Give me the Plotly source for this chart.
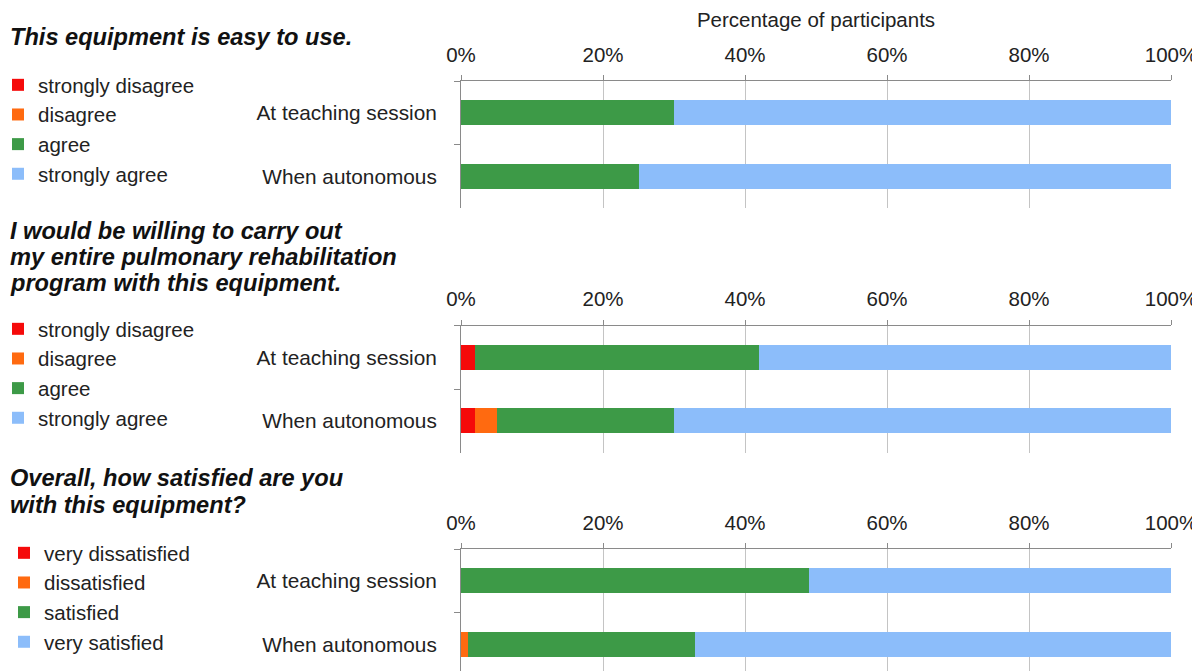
import plotly.graph_objects as go

# The page body adds an 8px margin; the figure is sized to fit inside the window.
OFF = 8
W, H = 1200 - OFF, 671 - OFF

categories = ["At teaching session", "When autonomous"]

# Panel 1: This equipment is easy to use.
p1_labels = ["strongly disagree", "disagree", "agree", "strongly agree"]
p1_strongly_disagree = [0, 0]
p1_disagree = [0, 0]
p1_agree = [30, 25]
p1_strongly_agree = [70, 75]

# Panel 2: willing to carry out entire program
p2_labels = ["strongly disagree", "disagree", "agree", "strongly agree"]
p2_strongly_disagree = [2, 2]
p2_disagree = [0, 3]
p2_agree = [40, 25]
p2_strongly_agree = [58, 70]

# Panel 3: satisfaction
p3_labels = ["very dissatisfied", "dissatisfied", "satisfied", "very satisfied"]
p3_very_dissatisfied = [0, 0]
p3_dissatisfied = [0, 1]
p3_satisfied = [49, 32]
p3_very_satisfied = [51, 67]

tick_vals = [0, 20, 40, 60, 80, 100]
tick_text = ["0%", "20%", "40%", "60%", "80%", "100%"]

colors = ["#f50a0a", "#ff6a10", "#3d9a47", "#8cbdfa"]

FONT = "Liberation Sans, Arial, sans-serif"

def px_x(X):
    return (X - OFF) / W

def px_y(Y):
    return 1 - (Y - OFF) / H

fig = go.Figure()

panels = [
    (p1_labels, [p1_strongly_disagree, p1_disagree, p1_agree, p1_strongly_agree], "x", "y", "legend"),
    (p2_labels, [p2_strongly_disagree, p2_disagree, p2_agree, p2_strongly_agree], "x2", "y2", "legend2"),
    (p3_labels, [p3_very_dissatisfied, p3_dissatisfied, p3_satisfied, p3_very_satisfied], "x3", "y3", "legend3"),
]

for labels, series, xa, ya, lg in panels:
    for name, vals, col in zip(labels, series, colors):
        fig.add_trace(go.Bar(
            x=vals, y=categories, orientation="h", name=name,
            marker=dict(color=col, line=dict(width=0)),
            xaxis=xa, yaxis=ya, legend=lg, width=0.39,
        ))

bottom_px = OFF + H
xdom = [px_x(461), px_x(1171)]
ydoms = [
    [px_y(208), px_y(81)],
    [px_y(452.5), px_y(325.5)],
    [0, px_y(549)],
]
yranges = [[1.5, -0.5], [1.5, -0.5], [-0.5 + (bottom_px - 549) / 63.5, -0.5]]

axis_common_x = dict(
    range=[0, 100], tickvals=tick_vals, ticktext=tick_text, side="top",
    showgrid=True, gridcolor="#c4c4c4", gridwidth=1,
    showline=True, linecolor="#8a8a8a", linewidth=1,
    ticks="outside", ticklen=5, tickcolor="#8a8a8a",
    tickfont=dict(family=FONT, size=20.5, color="#222"), zeroline=False,
    ticklabelstandoff=5, fixedrange=True, automargin=False,
)
axis_common_y = dict(
    type="category", categoryorder="array", categoryarray=categories,
    showline=True, linecolor="#8a8a8a", linewidth=1, showgrid=False,
    ticks="outside", ticklen=6, tickcolor="#8a8a8a", tickson="boundaries",
    tickfont=dict(family=FONT, size=20.8, color="#222"),
    ticklabelstandoff=19, zeroline=False, fixedrange=True, automargin=False,
)

layout = dict(
    width=W, height=H, barmode="stack",
    paper_bgcolor="white", plot_bgcolor="white",
    margin=dict(l=0, r=0, t=0, b=0, autoexpand=False),
    font=dict(family=FONT, size=20, color="#222"),
)
for i in range(3):
    sfx = "" if i == 0 else str(i + 1)
    ax = dict(axis_common_x, domain=xdom, anchor="y" + sfx)
    ay = dict(axis_common_y, domain=ydoms[i], anchor="x" + sfx, range=yranges[i])
    if i == 0:
        ax["title"] = dict(text="Percentage of participants", standoff=12,
                           font=dict(family=FONT, size=20.5, color="#222"))
    layout["xaxis" + sfx] = ax
    layout["yaxis" + sfx] = ay

legend_tops = [65, 309, 533]
legend_lefts = [-2, -2, 4]
for i, lg in enumerate(["legend", "legend2", "legend3"]):
    layout[lg] = dict(
        x=px_x(legend_lefts[i]), xanchor="left", y=px_y(legend_tops[i]), yanchor="top",
        traceorder="normal", bgcolor="rgba(0,0,0,0)",
        font=dict(family=FONT, size=20.5, color="#222"),
    )

fig.update_layout(**layout)

title_lines = [
    ("This equipment is easy to use.", 37),
    ("I would be willing to carry out", 231),
    ("my entire pulmonary rehabilitation", 257),
    ("program with this equipment.", 283),
    ("Overall, how satisfied are you", 478),
    ("with this equipment?", 505),
]
for txt, yc in title_lines:
    fig.add_annotation(
        text="<b><i>" + txt + "</i></b>", xref="paper", yref="paper",
        x=px_x(8), y=px_y(yc), xanchor="left", yanchor="middle", showarrow=False,
        font=dict(family=FONT, size=23.6, color="#111"),
    )

fig.write_html("out.html")
